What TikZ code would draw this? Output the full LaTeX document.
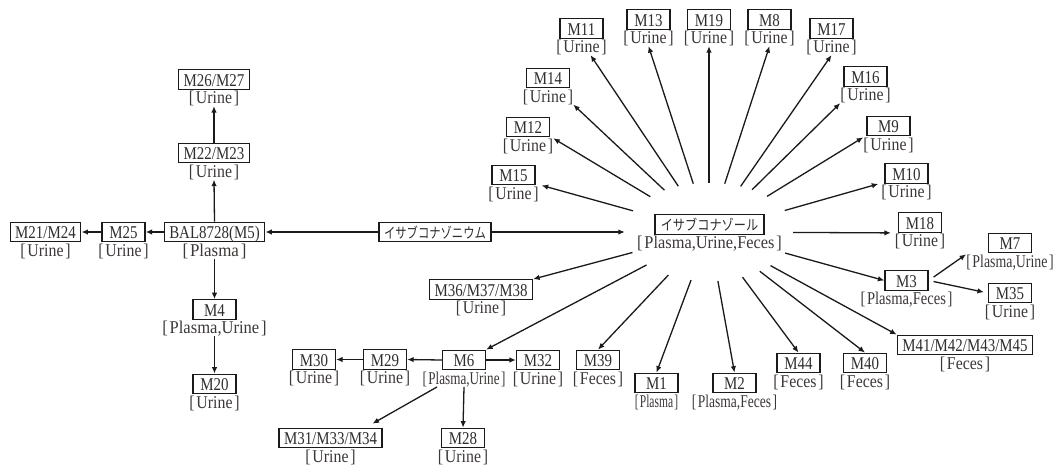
\documentclass[tikz,border=0pt]{standalone}
\usepackage{fontspec}
\usepackage{graphicx}
\setmainfont{Liberation Serif}
\newfontfamily\jpfont{Noto Sans CJK JP}
\usetikzlibrary{shapes.geometric,arrows.meta}
\definecolor{txt}{HTML}{2E2E2E}
\definecolor{lbl}{HTML}{3D3838}
\definecolor{ln}{HTML}{1A1A1A}
\newcommand\brk[2][0.88]{\scalebox{#1}[1]{[\hspace{2pt}#2\hspace{2pt}]}}
\newcommand\mnode[6][0.88]{%
  \node[box] (#2) at (#3,#4) {\scalebox{0.83}[1]{#5}};
  \node[lab] (#2l) at ([yshift=-24pt]#2.center) {\brk[#1]{#6}};}
\begin{document}
\begin{tikzpicture}[x=1pt,y=-1pt,
  box/.style={draw=ln, line width=1.3pt, text=txt, inner xsep=5pt, inner ysep=1.25pt,
    minimum width=43pt, minimum height=19.5pt, text height=15pt, text depth=2pt,
    font=\fontsize{18}{20}\selectfont},
  jp/.style={font=\jpfont\fontsize{14.5}{16}\selectfont, text height=14.5pt, text depth=2.5pt},
  lab/.style={text=lbl, inner sep=0pt, anchor=base, font=\fontsize{18}{20}\selectfont},
  arr/.style={draw=ln, line width=1.3pt, -{Latex[length=6.5pt,width=5.5pt]}},
]
\fill[white] (0,0) rectangle (1062,466);
\useasboundingbox (0,0) rectangle (1062,466);

% left cluster
\mnode{m2627}{214}{79.5}{M26/M27}{Urine}
\mnode{m2223}{214}{153}{M22/M23}{Urine}
\mnode[0.94]{bal}{214.5}{232}{BAL8728(M5)}{Plasma}
\mnode{m25}{123.5}{232}{M25}{Urine}
\mnode{m2124}{45.5}{232}{M21/M24}{Urine}
\mnode[0.92]{m4}{214.5}{309.5}{M4}{Plasma,Urine}
\mnode{m20}{214.5}{384}{M20}{Urine}

\node[box, jp, minimum width=110pt] (onium) at (435,232) {\scalebox{0.78}[1]{イサブコナゾニウム}};

% centre
\node[box, jp, minimum width=109pt] (iso) at (709.5,224.5) {\scalebox{0.84}[1]{イサブコナゾール}};
\node[lab] (isol) at ([yshift=-24pt]iso.center) {\brk[0.91]{Plasma,Urine,Feces}};
\node[ellipse, minimum width=168pt, minimum height=98pt, inner sep=0pt] (hub) at (709,232) {};

% lower middle
\mnode{m30}{314}{359.5}{M30}{Urine}
\mnode{m29}{385}{359.5}{M29}{Urine}
\mnode[0.73]{m6}{464}{360}{M6}{Plasma,Urine}
\mnode{m32}{538}{360}{M32}{Urine}
\mnode{m39}{598}{360}{M39}{Feces}
\mnode{m313334}{330.5}{438}{M31/M33/M34}{Urine}
\mnode{m28}{463}{438}{M28}{Urine}
\mnode{m363738}{481}{289.5}{M36/M37/M38}{Urine}
\mnode[0.64]{m1}{656.5}{383}{M1}{Plasma}
\mnode[0.75]{m2}{734.5}{383}{M2}{Plasma,Feces}
\mnode{m44}{798.5}{363}{M44}{Feces}
\mnode{m40}{865}{363}{M40}{Feces}
\mnode{m41}{965}{345}{M41/M42/M43/M45}{Feces}
\mnode[0.81]{m3}{906.5}{280.5}{M3}{Plasma,Feces}
\mnode[0.77]{m7}{1010}{243}{M7}{Plasma,Urine}
\mnode{m35}{1010}{293}{M35}{Urine}

% upper fan
\mnode{m18}{920}{222.5}{M18}{Urine}
\mnode{m10}{906.5}{173.5}{M10}{Urine}
\mnode{m9}{888.5}{126}{M9}{Urine}
\mnode{m16}{865.5}{76.5}{M16}{Urine}
\mnode{m17}{831.5}{28.5}{M17}{Urine}
\mnode{m8}{769.5}{19.5}{M8}{Urine}
\mnode{m19}{709}{19.5}{M19}{Urine}
\mnode{m13}{648.5}{19.5}{M13}{Urine}
\mnode{m11}{581.5}{28.5}{M11}{Urine}
\mnode{m14}{548}{78}{M14}{Urine}
\mnode{m12}{528}{127}{M12}{Urine}
\mnode{m15}{513.5}{175}{M15}{Urine}

% connectors: left
\draw[arr] (onium.west) -- (bal.east);
\draw[arr] (onium.east) -- (hub);
\draw[arr] (bal.west) -- (m25.east);
\draw[arr] (m25.west) -- (m2124.east);
\draw[arr] (bal.north) -- (m2223l.south);
\draw[arr] (m2223.north) -- (m2627l.south);
\draw[arr] (ball.south) -- (m4.north);
\draw[arr] (m4l.south) -- (m20.north);

% M6 branch
\draw[arr] (m6.west) -- (m29.east);
\draw[arr] (m29.west) -- (m30.east);
\draw[arr] (m6.east) -- (m32.west);
\draw[arr] ([xshift=-27pt]m6l.south) -- ([xshift=42pt,yshift=4pt]m313334.north);
\draw[arr] (m6l.south) -- (m28.north);

% from hub, lower
\draw[arr] (hub) -- (m363738.north east);
\draw[arr] (hub) -- (m6.north east);
\draw[arr] (hub) -- (m39.north);
\draw[arr] (hub) -- (m1.north);
\draw[arr] (hub) -- (m2.north);
\draw[arr] (hub) -- (m44.north);
\draw[arr] (hub) -- (m40.north);
\draw[arr] (hub) -- (m41.north west);
\draw[arr] (hub) -- (m3.west);
\draw[arr, shorten <=6pt] (m3.east) -- (m7l.north west);
\draw[arr, shorten <=5pt, shorten >=4pt] (m3.east) -- (m35.west);

% from hub, upper
\draw[arr] (hub) -- ([xshift=-7pt]m18.south west);
\draw[arr] (hub) -- ([xshift=-6pt]m10.south west);
\draw[arr] (hub) -- (m9l.north west);
\draw[arr] (hub) -- (m16l.south west);
\draw[arr] (hub) -- (m17l.south);
\draw[arr] (hub) -- (m8l.south);
\draw[arr] (hub) -- (m19l.south);
\draw[arr] (hub) -- (m13l.south);
\draw[arr] (hub) -- ([xshift=9pt]m11l.south);
\draw[arr] (hub) -- (m14l.south east);
\draw[arr] (hub) -- (m12l.north east);
\draw[arr] (hub) -- ([xshift=6pt]m15.south east);
\end{tikzpicture}
\end{document}
